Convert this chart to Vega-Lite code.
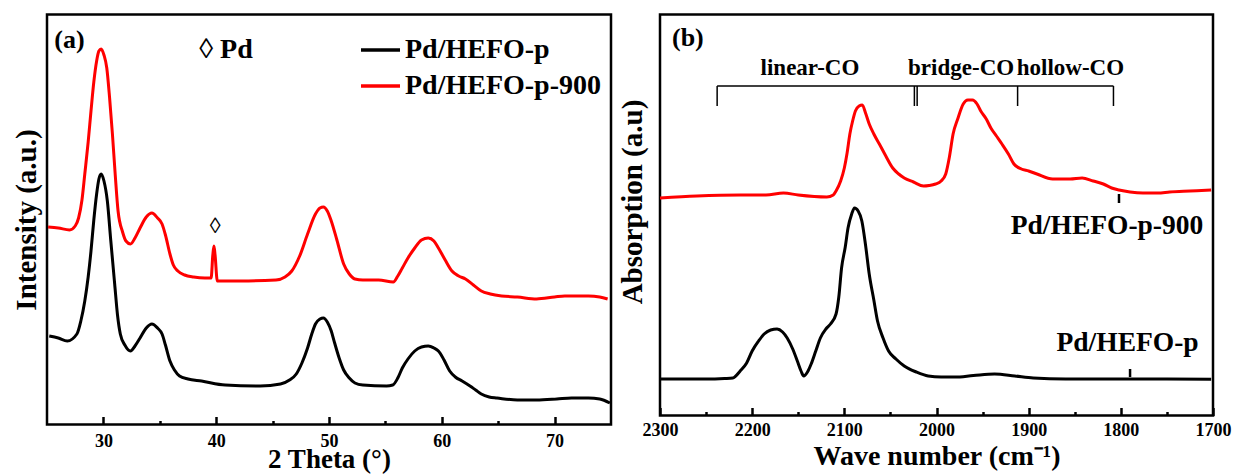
{
  "$schema": "https://vega.github.io/schema/vega-lite/v6.json",
  "background": "white",
  "padding": {"left": 10, "top": 12.5, "right": 5, "bottom": 5},
  "bounds": "flush",
  "spacing": 49,
  "config": {
    "view": {"stroke": "black", "strokeWidth": 2.5},
    "axis": {"grid": false, "domain": false, "labelFont": "Liberation Serif", "labelFontWeight": "bold", "labelColor": "black", "titleFont": "Liberation Serif", "titleFontWeight": "bold", "titleColor": "black"},
    "text": {"font": "Liberation Serif", "fontWeight": "bold", "color": "black"}
  },
  "resolve": {"scale": {"x": "independent", "y": "independent", "color": "independent"}},
  "hconcat": [
    {
      "width": 564,
      "height": 410,
      "encoding": {
        "x": {"field": "theta", "type": "quantitative", "scale": {"domain": [25, 75], "nice": false, "zero": false},
          "axis": {"title": "2 Theta (°)", "values": [30, 35, 40, 45, 50, 55, 60, 65, 70], "labelExpr": "datum.value % 10 === 0 ? datum.label : ''",
            "tickSize": {"condition": {"test": "datum.value % 10 === 0", "value": -8}, "value": -4}, "tickWidth": 2.5, "tickColor": "black",
            "labelFontSize": 18, "labelPadding": 16, "labelFlush": false, "titleFontSize": 27, "titlePadding": -4}},
        "y": {"field": "intensity", "type": "quantitative", "scale": {"domain": [0.5, 410.5], "nice": false, "zero": false},
          "axis": {"title": "Intensity (a.u.)", "labels": false, "ticks": false, "titleFontSize": 29, "titlePadding": 6}}
      },
      "layer": [
        {
          "data": {"values": [
            {"sample": "Pd/HEFO-p", "theta": 25.2, "intensity": 89}, {"sample": "Pd/HEFO-p", "theta": 26.0, "intensity": 87}, {"sample": "Pd/HEFO-p", "theta": 26.8, "intensity": 84}, {"sample": "Pd/HEFO-p", "theta": 27.65, "intensity": 91}, {"sample": "Pd/HEFO-p", "theta": 28.0, "intensity": 104}, {"sample": "Pd/HEFO-p", "theta": 28.35, "intensity": 124}, {"sample": "Pd/HEFO-p", "theta": 28.65, "intensity": 148}, {"sample": "Pd/HEFO-p", "theta": 28.9, "intensity": 174}, {"sample": "Pd/HEFO-p", "theta": 29.15, "intensity": 205}, {"sample": "Pd/HEFO-p", "theta": 29.4, "intensity": 231}, {"sample": "Pd/HEFO-p", "theta": 29.6, "intensity": 246}, {"sample": "Pd/HEFO-p", "theta": 29.8, "intensity": 251}, {"sample": "Pd/HEFO-p", "theta": 30.05, "intensity": 244}, {"sample": "Pd/HEFO-p", "theta": 30.35, "intensity": 224}, {"sample": "Pd/HEFO-p", "theta": 30.65, "intensity": 185}, {"sample": "Pd/HEFO-p", "theta": 31.0, "intensity": 141}, {"sample": "Pd/HEFO-p", "theta": 31.25, "intensity": 110}, {"sample": "Pd/HEFO-p", "theta": 31.5, "intensity": 91}, {"sample": "Pd/HEFO-p", "theta": 31.9, "intensity": 80}, {"sample": "Pd/HEFO-p", "theta": 32.4, "intensity": 74}, {"sample": "Pd/HEFO-p", "theta": 32.8, "intensity": 79}, {"sample": "Pd/HEFO-p", "theta": 33.25, "intensity": 87}, {"sample": "Pd/HEFO-p", "theta": 33.8, "intensity": 97}, {"sample": "Pd/HEFO-p", "theta": 34.3, "intensity": 101}, {"sample": "Pd/HEFO-p", "theta": 34.8, "intensity": 97}, {"sample": "Pd/HEFO-p", "theta": 35.2, "intensity": 91}, {"sample": "Pd/HEFO-p", "theta": 35.5, "intensity": 80}, {"sample": "Pd/HEFO-p", "theta": 35.9, "intensity": 64}, {"sample": "Pd/HEFO-p", "theta": 36.3, "intensity": 55}, {"sample": "Pd/HEFO-p", "theta": 36.75, "intensity": 49}, {"sample": "Pd/HEFO-p", "theta": 37.5, "intensity": 46}, {"sample": "Pd/HEFO-p", "theta": 38.7, "intensity": 44}, {"sample": "Pd/HEFO-p", "theta": 40.8, "intensity": 40}, {"sample": "Pd/HEFO-p", "theta": 43.9, "intensity": 39}, {"sample": "Pd/HEFO-p", "theta": 45.7, "intensity": 41}, {"sample": "Pd/HEFO-p", "theta": 46.5, "intensity": 45}, {"sample": "Pd/HEFO-p", "theta": 47.1, "intensity": 51}, {"sample": "Pd/HEFO-p", "theta": 47.6, "intensity": 62}, {"sample": "Pd/HEFO-p", "theta": 48.1, "intensity": 77}, {"sample": "Pd/HEFO-p", "theta": 48.5, "intensity": 92}, {"sample": "Pd/HEFO-p", "theta": 48.8, "intensity": 101}, {"sample": "Pd/HEFO-p", "theta": 49.2, "intensity": 106}, {"sample": "Pd/HEFO-p", "theta": 49.5, "intensity": 107}, {"sample": "Pd/HEFO-p", "theta": 49.85, "intensity": 103}, {"sample": "Pd/HEFO-p", "theta": 50.2, "intensity": 94}, {"sample": "Pd/HEFO-p", "theta": 50.5, "intensity": 82}, {"sample": "Pd/HEFO-p", "theta": 50.9, "intensity": 67}, {"sample": "Pd/HEFO-p", "theta": 51.3, "intensity": 55}, {"sample": "Pd/HEFO-p", "theta": 51.8, "intensity": 47}, {"sample": "Pd/HEFO-p", "theta": 52.3, "intensity": 42}, {"sample": "Pd/HEFO-p", "theta": 53.0, "intensity": 40}, {"sample": "Pd/HEFO-p", "theta": 55.1, "intensity": 39}, {"sample": "Pd/HEFO-p", "theta": 55.65, "intensity": 40}, {"sample": "Pd/HEFO-p", "theta": 56.1, "intensity": 47}, {"sample": "Pd/HEFO-p", "theta": 56.5, "intensity": 57}, {"sample": "Pd/HEFO-p", "theta": 57.0, "intensity": 66}, {"sample": "Pd/HEFO-p", "theta": 57.6, "intensity": 74}, {"sample": "Pd/HEFO-p", "theta": 58.2, "intensity": 78}, {"sample": "Pd/HEFO-p", "theta": 58.8, "intensity": 79}, {"sample": "Pd/HEFO-p", "theta": 59.3, "intensity": 77}, {"sample": "Pd/HEFO-p", "theta": 59.7, "intensity": 74}, {"sample": "Pd/HEFO-p", "theta": 60.2, "intensity": 65}, {"sample": "Pd/HEFO-p", "theta": 60.7, "intensity": 54}, {"sample": "Pd/HEFO-p", "theta": 61.2, "intensity": 48}, {"sample": "Pd/HEFO-p", "theta": 61.8, "intensity": 44}, {"sample": "Pd/HEFO-p", "theta": 62.5, "intensity": 39}, {"sample": "Pd/HEFO-p", "theta": 63.0, "intensity": 35}, {"sample": "Pd/HEFO-p", "theta": 63.5, "intensity": 31}, {"sample": "Pd/HEFO-p", "theta": 64.2, "intensity": 28}, {"sample": "Pd/HEFO-p", "theta": 64.9, "intensity": 27}, {"sample": "Pd/HEFO-p", "theta": 66.7, "intensity": 25}, {"sample": "Pd/HEFO-p", "theta": 68.4, "intensity": 25}, {"sample": "Pd/HEFO-p", "theta": 70.2, "intensity": 26}, {"sample": "Pd/HEFO-p", "theta": 71.5, "intensity": 27}, {"sample": "Pd/HEFO-p", "theta": 73.0, "intensity": 27}, {"sample": "Pd/HEFO-p", "theta": 74.0, "intensity": 26}, {"sample": "Pd/HEFO-p", "theta": 74.9, "intensity": 22},
            {"sample": "Pd/HEFO-p-900", "theta": 25.1, "intensity": 198}, {"sample": "Pd/HEFO-p-900", "theta": 26.0, "intensity": 197}, {"sample": "Pd/HEFO-p-900", "theta": 27.0, "intensity": 195}, {"sample": "Pd/HEFO-p-900", "theta": 27.5, "intensity": 199}, {"sample": "Pd/HEFO-p-900", "theta": 27.8, "intensity": 207}, {"sample": "Pd/HEFO-p-900", "theta": 28.1, "intensity": 225}, {"sample": "Pd/HEFO-p-900", "theta": 28.35, "intensity": 251}, {"sample": "Pd/HEFO-p-900", "theta": 28.65, "intensity": 283}, {"sample": "Pd/HEFO-p-900", "theta": 28.9, "intensity": 314}, {"sample": "Pd/HEFO-p-900", "theta": 29.15, "intensity": 343}, {"sample": "Pd/HEFO-p-900", "theta": 29.4, "intensity": 364}, {"sample": "Pd/HEFO-p-900", "theta": 29.6, "intensity": 374}, {"sample": "Pd/HEFO-p-900", "theta": 29.8, "intensity": 376}, {"sample": "Pd/HEFO-p-900", "theta": 30.05, "intensity": 370}, {"sample": "Pd/HEFO-p-900", "theta": 30.3, "intensity": 357}, {"sample": "Pd/HEFO-p-900", "theta": 30.55, "intensity": 327}, {"sample": "Pd/HEFO-p-900", "theta": 30.8, "intensity": 291}, {"sample": "Pd/HEFO-p-900", "theta": 31.05, "intensity": 250}, {"sample": "Pd/HEFO-p-900", "theta": 31.3, "intensity": 214}, {"sample": "Pd/HEFO-p-900", "theta": 31.7, "intensity": 193}, {"sample": "Pd/HEFO-p-900", "theta": 32.0, "intensity": 184}, {"sample": "Pd/HEFO-p-900", "theta": 32.4, "intensity": 181}, {"sample": "Pd/HEFO-p-900", "theta": 32.8, "intensity": 187}, {"sample": "Pd/HEFO-p-900", "theta": 33.25, "intensity": 197}, {"sample": "Pd/HEFO-p-900", "theta": 33.8, "intensity": 208}, {"sample": "Pd/HEFO-p-900", "theta": 34.3, "intensity": 212}, {"sample": "Pd/HEFO-p-900", "theta": 34.8, "intensity": 207}, {"sample": "Pd/HEFO-p-900", "theta": 35.2, "intensity": 201}, {"sample": "Pd/HEFO-p-900", "theta": 35.5, "intensity": 190}, {"sample": "Pd/HEFO-p-900", "theta": 35.9, "intensity": 171}, {"sample": "Pd/HEFO-p-900", "theta": 36.2, "intensity": 160}, {"sample": "Pd/HEFO-p-900", "theta": 36.6, "intensity": 154}, {"sample": "Pd/HEFO-p-900", "theta": 37.2, "intensity": 150}, {"sample": "Pd/HEFO-p-900", "theta": 38.0, "intensity": 148}, {"sample": "Pd/HEFO-p-900", "theta": 39.0, "intensity": 147}, {"sample": "Pd/HEFO-p-900", "theta": 39.55, "intensity": 147}, {"sample": "Pd/HEFO-p-900", "theta": 39.7, "intensity": 170}, {"sample": "Pd/HEFO-p-900", "theta": 39.8, "intensity": 179}, {"sample": "Pd/HEFO-p-900", "theta": 39.9, "intensity": 170}, {"sample": "Pd/HEFO-p-900", "theta": 40.1, "intensity": 144}, {"sample": "Pd/HEFO-p-900", "theta": 42.2, "intensity": 144}, {"sample": "Pd/HEFO-p-900", "theta": 45.3, "intensity": 145}, {"sample": "Pd/HEFO-p-900", "theta": 46.1, "intensity": 148}, {"sample": "Pd/HEFO-p-900", "theta": 46.7, "intensity": 154}, {"sample": "Pd/HEFO-p-900", "theta": 47.4, "intensity": 169}, {"sample": "Pd/HEFO-p-900", "theta": 48.1, "intensity": 191}, {"sample": "Pd/HEFO-p-900", "theta": 48.8, "intensity": 211}, {"sample": "Pd/HEFO-p-900", "theta": 49.2, "intensity": 217}, {"sample": "Pd/HEFO-p-900", "theta": 49.5, "intensity": 218}, {"sample": "Pd/HEFO-p-900", "theta": 49.85, "intensity": 214}, {"sample": "Pd/HEFO-p-900", "theta": 50.2, "intensity": 204}, {"sample": "Pd/HEFO-p-900", "theta": 50.7, "intensity": 185}, {"sample": "Pd/HEFO-p-900", "theta": 51.3, "intensity": 161}, {"sample": "Pd/HEFO-p-900", "theta": 51.8, "intensity": 151}, {"sample": "Pd/HEFO-p-900", "theta": 52.3, "intensity": 146}, {"sample": "Pd/HEFO-p-900", "theta": 53.0, "intensity": 145}, {"sample": "Pd/HEFO-p-900", "theta": 54.4, "intensity": 145}, {"sample": "Pd/HEFO-p-900", "theta": 55.7, "intensity": 143}, {"sample": "Pd/HEFO-p-900", "theta": 56.1, "intensity": 149}, {"sample": "Pd/HEFO-p-900", "theta": 56.5, "intensity": 157}, {"sample": "Pd/HEFO-p-900", "theta": 57.0, "intensity": 167}, {"sample": "Pd/HEFO-p-900", "theta": 57.6, "intensity": 177}, {"sample": "Pd/HEFO-p-900", "theta": 58.2, "intensity": 185}, {"sample": "Pd/HEFO-p-900", "theta": 58.8, "intensity": 187}, {"sample": "Pd/HEFO-p-900", "theta": 59.3, "intensity": 184}, {"sample": "Pd/HEFO-p-900", "theta": 59.7, "intensity": 177}, {"sample": "Pd/HEFO-p-900", "theta": 60.3, "intensity": 165}, {"sample": "Pd/HEFO-p-900", "theta": 60.9, "intensity": 154}, {"sample": "Pd/HEFO-p-900", "theta": 61.5, "intensity": 149}, {"sample": "Pd/HEFO-p-900", "theta": 62.1, "intensity": 146}, {"sample": "Pd/HEFO-p-900", "theta": 62.8, "intensity": 140}, {"sample": "Pd/HEFO-p-900", "theta": 63.5, "intensity": 134}, {"sample": "Pd/HEFO-p-900", "theta": 64.3, "intensity": 131}, {"sample": "Pd/HEFO-p-900", "theta": 65.3, "intensity": 129}, {"sample": "Pd/HEFO-p-900", "theta": 66.7, "intensity": 128}, {"sample": "Pd/HEFO-p-900", "theta": 68.4, "intensity": 126}, {"sample": "Pd/HEFO-p-900", "theta": 70.0, "intensity": 128}, {"sample": "Pd/HEFO-p-900", "theta": 70.9, "intensity": 129}, {"sample": "Pd/HEFO-p-900", "theta": 73.0, "intensity": 129}, {"sample": "Pd/HEFO-p-900", "theta": 74.0, "intensity": 128}, {"sample": "Pd/HEFO-p-900", "theta": 74.7, "intensity": 126}
          ]},
          "mark": {"type": "line", "strokeWidth": 3, "interpolate": "monotone"},
          "encoding": {
            "color": {"field": "sample", "type": "nominal", "scale": {"domain": ["Pd/HEFO-p", "Pd/HEFO-p-900"], "range": ["#000000", "#ff0000"]},
              "legend": {"orient": "none", "legendX": 312, "legendY": 14, "title": null, "symbolType": "stroke", "symbolSize": 1521, "symbolStrokeWidth": 3.5, "labelFont": "Liberation Serif", "labelFontSize": 28, "labelFontWeight": "bold", "labelColor": "black", "labelOffset": 3, "rowPadding": -8, "padding": 0, "labelLimit": 400}}
          }
        },
        {
          "data": {"values": [{"theta": 25.64, "intensity": 377, "label": "(a)"}]},
          "mark": {"type": "text", "align": "left", "baseline": "alphabetic", "fontSize": 26},
          "encoding": {"text": {"field": "label"}}
        },
        {
          "data": {"values": [{"theta": 38.5, "intensity": 366.7, "label": "◊ Pd"}]},
          "mark": {"type": "text", "align": "left", "baseline": "alphabetic", "fontSize": 28},
          "encoding": {"text": {"field": "label"}}
        },
        {
          "data": {"values": [{"theta": 39.9, "intensity": 199, "label": "◊"}]},
          "mark": {"type": "text", "align": "center", "baseline": "middle", "fontSize": 22, "fontWeight": "normal"},
          "encoding": {"text": {"field": "label"}}
        }
      ]
    },
    {
      "width": 553,
      "height": 401,
      "encoding": {
        "x": {"field": "wn", "type": "quantitative", "scale": {"domain": [1700, 2300], "reverse": true, "nice": false, "zero": false},
          "axis": {"title": "Wave number (cm⁻¹)", "values": [2300, 2250, 2200, 2150, 2100, 2050, 2000, 1950, 1900, 1850, 1800, 1750, 1700], "labelExpr": "datum.value % 100 === 0 ? datum.label : ''", "format": "d",
            "tickSize": {"condition": {"test": "datum.value % 100 === 0", "value": -8}, "value": -4}, "tickWidth": 2.5, "tickColor": "black",
            "labelFontSize": 18, "labelPadding": 14, "labelFlush": false, "titleFontSize": 28, "titlePadding": 3}},
        "y": {"field": "abs", "type": "quantitative", "scale": {"domain": [1.5, 402.5], "nice": false, "zero": false},
          "axis": {"title": "Absorption (a.u)", "labels": false, "ticks": false, "titleFontSize": 29, "titlePadding": 13, "titleY": 187}}
      },
      "layer": [
        {
          "data": {"values": [
            {"sample": "Pd/HEFO-p", "wn": 2300, "abs": 38}, {"sample": "Pd/HEFO-p", "wn": 2250, "abs": 38}, {"sample": "Pd/HEFO-p", "wn": 2230, "abs": 38.5}, {"sample": "Pd/HEFO-p", "wn": 2221, "abs": 39}, {"sample": "Pd/HEFO-p", "wn": 2213, "abs": 46}, {"sample": "Pd/HEFO-p", "wn": 2206, "abs": 54}, {"sample": "Pd/HEFO-p", "wn": 2200, "abs": 66}, {"sample": "Pd/HEFO-p", "wn": 2193, "abs": 76}, {"sample": "Pd/HEFO-p", "wn": 2187, "abs": 83}, {"sample": "Pd/HEFO-p", "wn": 2180, "abs": 87}, {"sample": "Pd/HEFO-p", "wn": 2173, "abs": 88}, {"sample": "Pd/HEFO-p", "wn": 2167, "abs": 85}, {"sample": "Pd/HEFO-p", "wn": 2162, "abs": 79}, {"sample": "Pd/HEFO-p", "wn": 2156, "abs": 68}, {"sample": "Pd/HEFO-p", "wn": 2151, "abs": 56}, {"sample": "Pd/HEFO-p", "wn": 2147, "abs": 46}, {"sample": "Pd/HEFO-p", "wn": 2144, "abs": 41}, {"sample": "Pd/HEFO-p", "wn": 2140, "abs": 45}, {"sample": "Pd/HEFO-p", "wn": 2136, "abs": 53}, {"sample": "Pd/HEFO-p", "wn": 2131, "abs": 66}, {"sample": "Pd/HEFO-p", "wn": 2126, "abs": 79}, {"sample": "Pd/HEFO-p", "wn": 2120, "abs": 88}, {"sample": "Pd/HEFO-p", "wn": 2115, "abs": 93}, {"sample": "Pd/HEFO-p", "wn": 2109, "abs": 103}, {"sample": "Pd/HEFO-p", "wn": 2106, "abs": 120}, {"sample": "Pd/HEFO-p", "wn": 2103, "abs": 149}, {"sample": "Pd/HEFO-p", "wn": 2099, "abs": 170}, {"sample": "Pd/HEFO-p", "wn": 2096, "abs": 189}, {"sample": "Pd/HEFO-p", "wn": 2092, "abs": 203}, {"sample": "Pd/HEFO-p", "wn": 2089, "abs": 209}, {"sample": "Pd/HEFO-p", "wn": 2085, "abs": 206}, {"sample": "Pd/HEFO-p", "wn": 2081, "abs": 196}, {"sample": "Pd/HEFO-p", "wn": 2077, "abs": 172}, {"sample": "Pd/HEFO-p", "wn": 2073, "abs": 143}, {"sample": "Pd/HEFO-p", "wn": 2068, "abs": 117}, {"sample": "Pd/HEFO-p", "wn": 2064, "abs": 96}, {"sample": "Pd/HEFO-p", "wn": 2058, "abs": 79}, {"sample": "Pd/HEFO-p", "wn": 2052, "abs": 66}, {"sample": "Pd/HEFO-p", "wn": 2044, "abs": 58}, {"sample": "Pd/HEFO-p", "wn": 2035, "abs": 51}, {"sample": "Pd/HEFO-p", "wn": 2022, "abs": 45}, {"sample": "Pd/HEFO-p", "wn": 2009, "abs": 41}, {"sample": "Pd/HEFO-p", "wn": 1995, "abs": 40}, {"sample": "Pd/HEFO-p", "wn": 1980, "abs": 40}, {"sample": "Pd/HEFO-p", "wn": 1960, "abs": 41.5}, {"sample": "Pd/HEFO-p", "wn": 1937, "abs": 43}, {"sample": "Pd/HEFO-p", "wn": 1915, "abs": 41}, {"sample": "Pd/HEFO-p", "wn": 1895, "abs": 39}, {"sample": "Pd/HEFO-p", "wn": 1860, "abs": 38}, {"sample": "Pd/HEFO-p", "wn": 1831, "abs": 38}, {"sample": "Pd/HEFO-p", "wn": 1800, "abs": 38}, {"sample": "Pd/HEFO-p", "wn": 1750, "abs": 38}, {"sample": "Pd/HEFO-p", "wn": 1702, "abs": 37.7},
            {"sample": "Pd/HEFO-p-900", "wn": 2300, "abs": 219}, {"sample": "Pd/HEFO-p-900", "wn": 2260, "abs": 221}, {"sample": "Pd/HEFO-p-900", "wn": 2213, "abs": 222}, {"sample": "Pd/HEFO-p-900", "wn": 2185, "abs": 222}, {"sample": "Pd/HEFO-p-900", "wn": 2166, "abs": 224}, {"sample": "Pd/HEFO-p-900", "wn": 2150, "abs": 222}, {"sample": "Pd/HEFO-p-900", "wn": 2119, "abs": 220}, {"sample": "Pd/HEFO-p-900", "wn": 2112, "abs": 222}, {"sample": "Pd/HEFO-p-900", "wn": 2109, "abs": 226}, {"sample": "Pd/HEFO-p-900", "wn": 2104, "abs": 236}, {"sample": "Pd/HEFO-p-900", "wn": 2100, "abs": 249}, {"sample": "Pd/HEFO-p-900", "wn": 2097, "abs": 264}, {"sample": "Pd/HEFO-p-900", "wn": 2094, "abs": 283}, {"sample": "Pd/HEFO-p-900", "wn": 2091, "abs": 296}, {"sample": "Pd/HEFO-p-900", "wn": 2088, "abs": 306}, {"sample": "Pd/HEFO-p-900", "wn": 2084, "abs": 311}, {"sample": "Pd/HEFO-p-900", "wn": 2080.5, "abs": 312}, {"sample": "Pd/HEFO-p-900", "wn": 2077, "abs": 304}, {"sample": "Pd/HEFO-p-900", "wn": 2073, "abs": 293}, {"sample": "Pd/HEFO-p-900", "wn": 2068, "abs": 283}, {"sample": "Pd/HEFO-p-900", "wn": 2062, "abs": 273}, {"sample": "Pd/HEFO-p-900", "wn": 2055, "abs": 261}, {"sample": "Pd/HEFO-p-900", "wn": 2047.5, "abs": 249}, {"sample": "Pd/HEFO-p-900", "wn": 2041, "abs": 243}, {"sample": "Pd/HEFO-p-900", "wn": 2035, "abs": 239}, {"sample": "Pd/HEFO-p-900", "wn": 2025, "abs": 235}, {"sample": "Pd/HEFO-p-900", "wn": 2014, "abs": 231}, {"sample": "Pd/HEFO-p-900", "wn": 2008, "abs": 231.5}, {"sample": "Pd/HEFO-p-900", "wn": 2001, "abs": 233}, {"sample": "Pd/HEFO-p-900", "wn": 1995, "abs": 236}, {"sample": "Pd/HEFO-p-900", "wn": 1990, "abs": 243}, {"sample": "Pd/HEFO-p-900", "wn": 1986, "abs": 260}, {"sample": "Pd/HEFO-p-900", "wn": 1982, "abs": 283}, {"sample": "Pd/HEFO-p-900", "wn": 1977, "abs": 298}, {"sample": "Pd/HEFO-p-900", "wn": 1971, "abs": 313}, {"sample": "Pd/HEFO-p-900", "wn": 1966, "abs": 317}, {"sample": "Pd/HEFO-p-900", "wn": 1961, "abs": 317}, {"sample": "Pd/HEFO-p-900", "wn": 1956, "abs": 313}, {"sample": "Pd/HEFO-p-900", "wn": 1952, "abs": 306}, {"sample": "Pd/HEFO-p-900", "wn": 1946, "abs": 298}, {"sample": "Pd/HEFO-p-900", "wn": 1941, "abs": 289}, {"sample": "Pd/HEFO-p-900", "wn": 1935, "abs": 281}, {"sample": "Pd/HEFO-p-900", "wn": 1929, "abs": 273}, {"sample": "Pd/HEFO-p-900", "wn": 1922, "abs": 263}, {"sample": "Pd/HEFO-p-900", "wn": 1916, "abs": 253}, {"sample": "Pd/HEFO-p-900", "wn": 1908, "abs": 248}, {"sample": "Pd/HEFO-p-900", "wn": 1900, "abs": 246}, {"sample": "Pd/HEFO-p-900", "wn": 1891, "abs": 243}, {"sample": "Pd/HEFO-p-900", "wn": 1874, "abs": 238}, {"sample": "Pd/HEFO-p-900", "wn": 1855, "abs": 238}, {"sample": "Pd/HEFO-p-900", "wn": 1842, "abs": 239}, {"sample": "Pd/HEFO-p-900", "wn": 1830, "abs": 236}, {"sample": "Pd/HEFO-p-900", "wn": 1819, "abs": 233}, {"sample": "Pd/HEFO-p-900", "wn": 1810, "abs": 229}, {"sample": "Pd/HEFO-p-900", "wn": 1802, "abs": 227}, {"sample": "Pd/HEFO-p-900", "wn": 1790, "abs": 225}, {"sample": "Pd/HEFO-p-900", "wn": 1776, "abs": 224}, {"sample": "Pd/HEFO-p-900", "wn": 1760, "abs": 224}, {"sample": "Pd/HEFO-p-900", "wn": 1747, "abs": 225}, {"sample": "Pd/HEFO-p-900", "wn": 1725, "abs": 226}, {"sample": "Pd/HEFO-p-900", "wn": 1702, "abs": 227}
          ]},
          "mark": {"type": "line", "strokeWidth": 3, "interpolate": "monotone"},
          "encoding": {
            "color": {"field": "sample", "type": "nominal", "scale": {"domain": ["Pd/HEFO-p", "Pd/HEFO-p-900"], "range": ["#000000", "#ff0000"]}, "legend": null}
          }
        },
        {
          "data": {"values": [
            {"wn": 2238, "wn2": 1808, "abs": 331, "abs2": 331},
            {"wn": 2238, "wn2": 2238, "abs": 331, "abs2": 311},
            {"wn": 2024, "wn2": 2024, "abs": 331, "abs2": 311},
            {"wn": 2021, "wn2": 2021, "abs": 331, "abs2": 311},
            {"wn": 1912, "wn2": 1912, "abs": 331, "abs2": 311},
            {"wn": 1808, "wn2": 1808, "abs": 331, "abs2": 311}
          ]},
          "mark": {"type": "rule", "color": "black", "strokeWidth": 1.5},
          "encoding": {"x2": {"field": "wn2"}, "y2": {"field": "abs2"}}
        },
        {
          "data": {"values": [
            {"wn": 1802, "wn2": 1802, "abs": 214, "abs2": 223},
            {"wn": 1790, "wn2": 1790, "abs": 40, "abs2": 48}
          ]},
          "mark": {"type": "rule", "color": "black", "strokeWidth": 2.5},
          "encoding": {"x2": {"field": "wn2"}, "y2": {"field": "abs2"}}
        },
        {
          "data": {"values": [{"wn": 2287, "abs": 371, "label": "(b)"}]},
          "mark": {"type": "text", "align": "left", "baseline": "alphabetic", "fontSize": 26},
          "encoding": {"text": {"field": "label"}}
        },
        {
          "data": {"values": [
            {"wn": 2137.3, "abs": 342, "label": "linear-CO"},
            {"wn": 1973.3, "abs": 342, "label": "bridge-CO"},
            {"wn": 1854.7, "abs": 342, "label": "hollow-CO"}
          ]},
          "mark": {"type": "text", "align": "center", "baseline": "alphabetic", "fontSize": 23},
          "encoding": {"text": {"field": "label"}}
        },
        {
          "data": {"values": [
            {"wn": 1815, "abs": 183, "label": "Pd/HEFO-p-900"},
            {"wn": 1792.7, "abs": 66, "label": "Pd/HEFO-p"}
          ]},
          "mark": {"type": "text", "align": "center", "baseline": "alphabetic", "fontSize": 27.5},
          "encoding": {"text": {"field": "label"}}
        }
      ]
    }
  ]
}
